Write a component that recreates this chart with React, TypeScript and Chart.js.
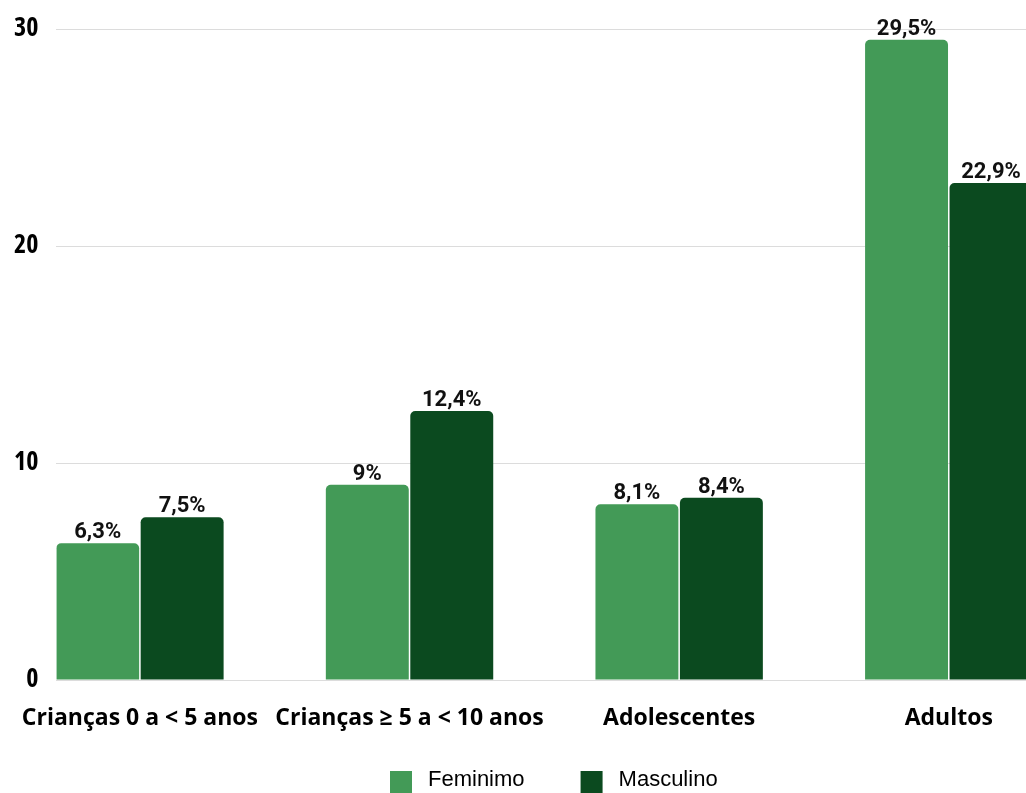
import { useEffect, useRef } from 'react';
import { Chart, registerables } from 'chart.js';

Chart.register(...registerables);

// Age groups shown on the horizontal axis
const categories = ['Crianças 0 a < 5 anos', 'Crianças ≥ 5 a < 10 anos', 'Adolescentes', 'Adultos'];
// Percentages per group
const feminimo = [6.3, 9, 8.1, 29.5];
const masculino = [7.5, 12.4, 8.4, 22.9];
const seriesNames = ['Feminimo', 'Masculino'];
const seriesColors = ['#439A57', '#0B4A1F'];
const yTickValues = [0, 10, 20, 30];

const X_MIN = -0.3095;
const X_MAX = 3.2864;

const fmt = (v: number) => String(v).replace('.', ',') + '%';

const valueLabels = {
  id: 'valueLabels',
  afterDatasetsDraw(chart: any) {
    const ctx = chart.ctx;
    ctx.save();
    ctx.font = 'bold 22px Roboto';
    ctx.fillStyle = '#111';
    ctx.textAlign = 'center';
    ctx.textBaseline = 'alphabetic';
    chart.data.datasets.forEach((ds: any, di: number) => {
      chart.getDatasetMeta(di).data.forEach((bar: any, i: number) => {
        ctx.fillText(fmt(ds.data[i].y), bar.x, bar.y - 5);
      });
    });
    ctx.restore();
  },
};

const bottomLegend = {
  id: 'bottomLegend',
  afterDraw(chart: any) {
    const ctx = chart.ctx;
    ctx.save();
    ctx.font = '22px "Liberation Sans"';
    ctx.textBaseline = 'middle';
    ctx.textAlign = 'left';
    let x = 390;
    const boxTop = 771;
    const box = 22;
    chart.data.datasets.forEach((ds: any) => {
      ctx.fillStyle = ds.backgroundColor;
      ctx.fillRect(x, boxTop, box, box);
      ctx.fillStyle = '#000';
      const tx = x + box + 16;
      ctx.fillText(ds.label, tx, 780);
      x = tx + ctx.measureText(ds.label).width + 56;
    });
    ctx.restore();
  },
};

export default function App() {
  const ref = useRef<HTMLCanvasElement | null>(null);

  useEffect(() => {
    if (!ref.current) return;
    const chart = new Chart(ref.current, {
      type: 'bar',
      data: {
        datasets: [feminimo, masculino].map((vals, s) => ({
          label: seriesNames[s],
          data: vals.map((y, i) => ({ x: i, y })),
          backgroundColor: seriesColors[s],
          borderRadius: { topLeft: 5, topRight: 5, bottomLeft: 0, bottomRight: 0 },
          borderSkipped: 'bottom',
          categoryPercentage: 0.6265,
          barPercentage: 0.982,
        })),
      },
      options: {
        animation: false,
        responsive: false,
        layout: { padding: { top: 29, left: 0, right: 0, bottom: 0 } },
        plugins: { legend: { display: false }, tooltip: { enabled: false } },
        scales: {
          x: {
            type: 'linear',
            offset: false,
            min: X_MIN,
            max: X_MAX,
            grid: { display: false },
            border: { display: false },
            afterFit: (scale: any) => {
              scale.height = 113;
            },
            afterBuildTicks: (scale: any) => {
              scale.ticks = categories.map((_, i) => ({ value: i }));
            },
            ticks: {
              autoSkip: false,
              maxRotation: 0,
              minRotation: 0,
              padding: 17,
              color: '#000',
              font: { family: "'Open Sans'", weight: 'bold', size: 23 },
              callback: (v: any) => categories[Math.round(Number(v))] ?? '',
            },
          },
          y: {
            min: 0,
            max: 30,
            grid: { color: '#dcdcdc', lineWidth: 1, drawTicks: false },
            border: { display: false },
            afterFit: (scale: any) => {
              scale.width = 56;
              scale.paddingTop = 0;
              scale.paddingBottom = 0;
            },
            afterBuildTicks: (scale: any) => {
              scale.ticks = yTickValues.map((value) => ({ value }));
            },
            ticks: {
              padding: 18,
              color: '#000',
              font: { family: "'Open Sans'", weight: 'bold condensed' as any, size: 26 },
            },
          },
        },
      },
      plugins: [valueLabels, bottomLegend],
    });
    return () => chart.destroy();
  }, []);

  return (
    <div style={{ position: 'fixed', left: 0, top: 0, width: 1026, height: 793, background: '#fff' }}>
      <canvas ref={ref} width={1026} height={793} />
    </div>
  );
}
